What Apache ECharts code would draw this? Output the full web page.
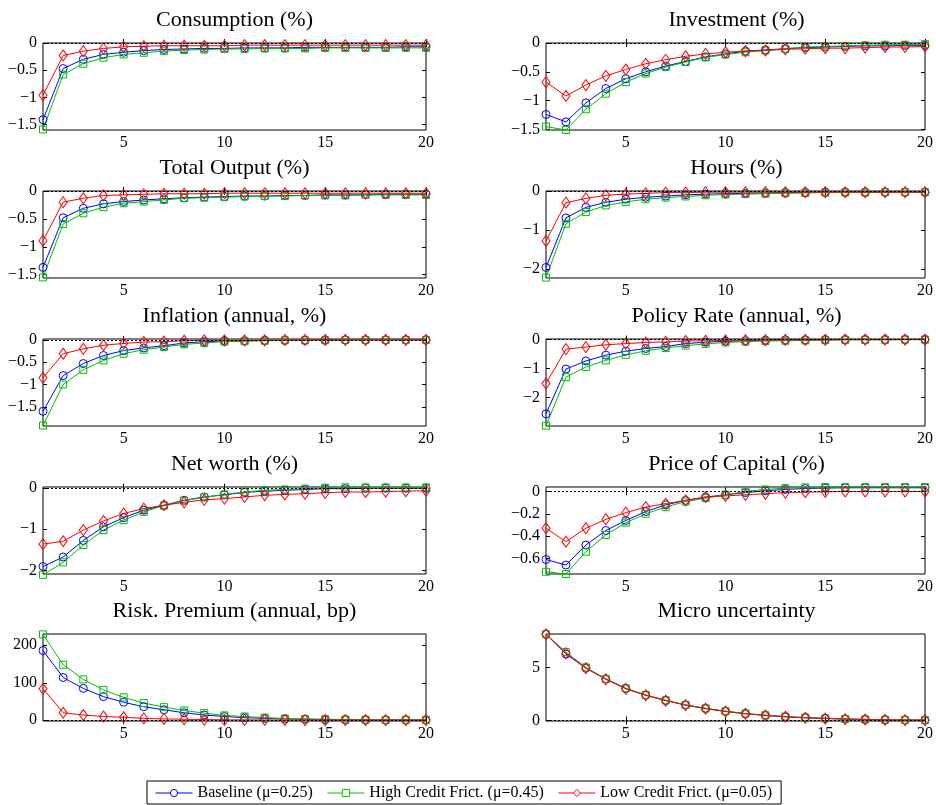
<!DOCTYPE html>
<html>
<head>
<meta charset="utf-8">
<script src="https://cdn.jsdelivr.net/npm/echarts@6/dist/echarts.min.js"></script>
<style>
html, body { margin: 0; padding: 0; background: #fff; }
#chart { width: 936px; height: 805px; }
</style>
</head>
<body>
<div id="chart"></div>
<script>
// quarters after the shock
var periods = [1,2,3,4,5,6,7,8,9,10,11,12,13,14,15,16,17,18,19,20];
var xTicks = [5, 10, 15, 20];

var seriesNames = ['Baseline (\u03bc=0.25)', 'High Credit Frict. (\u03bc=0.45)', 'Low Credit Frict. (\u03bc=0.05)'];

var titles = ['Consumption (%)', 'Investment (%)', 'Total Output (%)', 'Hours (%)',
  'Inflation (annual, %)', 'Policy Rate (annual, %)', 'Net worth (%)', 'Price of Capital (%)',
  'Risk. Premium (annual, bp)', 'Micro uncertainty'];

// consumption
var consBase = [-1.41,-0.47,-0.30,-0.21,-0.17,-0.14,-0.12,-0.11,-0.10,-0.10,-0.09,-0.09,-0.09,-0.08,-0.08,-0.08,-0.08,-0.08,-0.07,-0.07];
var consHigh = [-1.59,-0.58,-0.38,-0.27,-0.21,-0.18,-0.15,-0.13,-0.12,-0.11,-0.11,-0.10,-0.10,-0.10,-0.09,-0.09,-0.09,-0.09,-0.09,-0.09];
var consLow  = [-0.96,-0.23,-0.15,-0.10,-0.07,-0.06,-0.05,-0.05,-0.05,-0.05,-0.04,-0.04,-0.04,-0.04,-0.04,-0.04,-0.04,-0.04,-0.04,-0.04];
// investment
var invBase = [-1.24,-1.37,-1.04,-0.79,-0.62,-0.50,-0.40,-0.32,-0.24,-0.19,-0.14,-0.12,-0.10,-0.08,-0.07,-0.06,-0.05,-0.05,-0.04,-0.04];
var invHigh = [-1.45,-1.51,-1.15,-0.88,-0.68,-0.53,-0.42,-0.33,-0.25,-0.20,-0.16,-0.13,-0.10,-0.07,-0.06,-0.05,-0.04,-0.03,-0.03,-0.02];
var invLow  = [-0.68,-0.92,-0.73,-0.57,-0.46,-0.36,-0.29,-0.23,-0.19,-0.16,-0.14,-0.13,-0.11,-0.10,-0.09,-0.09,-0.08,-0.07,-0.07,-0.06];
// total output
var outBase = [-1.37,-0.48,-0.31,-0.23,-0.19,-0.16,-0.14,-0.12,-0.11,-0.10,-0.09,-0.09,-0.08,-0.08,-0.07,-0.07,-0.07,-0.06,-0.06,-0.06];
var outHigh = [-1.55,-0.59,-0.40,-0.29,-0.22,-0.19,-0.16,-0.13,-0.12,-0.11,-0.10,-0.09,-0.09,-0.08,-0.08,-0.08,-0.07,-0.07,-0.07,-0.07];
var outLow  = [-0.89,-0.20,-0.13,-0.08,-0.07,-0.06,-0.05,-0.05,-0.05,-0.04,-0.04,-0.04,-0.04,-0.04,-0.04,-0.04,-0.04,-0.04,-0.04,-0.04];
// hours
var hrsBase = [-1.96,-0.69,-0.42,-0.29,-0.21,-0.16,-0.13,-0.10,-0.08,-0.07,-0.06,-0.05,-0.04,-0.04,-0.03,-0.03,-0.03,-0.03,-0.03,-0.03];
var hrsHigh = [-2.22,-0.84,-0.54,-0.37,-0.28,-0.21,-0.17,-0.14,-0.11,-0.09,-0.08,-0.07,-0.06,-0.05,-0.04,-0.04,-0.04,-0.03,-0.03,-0.03];
var hrsLow  = [-1.28,-0.30,-0.19,-0.11,-0.08,-0.06,-0.04,-0.04,-0.03,-0.03,-0.03,-0.03,-0.03,-0.03,-0.03,-0.03,-0.03,-0.03,-0.03,-0.03];
// inflation
var infBase = [-1.60,-0.80,-0.53,-0.35,-0.24,-0.18,-0.13,-0.07,-0.04,-0.02,-0.02,-0.01,-0.01,-0.01,0,0,0,0,0,0];
var infHigh = [-1.92,-1.00,-0.67,-0.46,-0.31,-0.22,-0.16,-0.10,-0.07,-0.04,-0.03,-0.02,-0.01,-0.01,-0.01,0,0,0,0,0];
var infLow  = [-0.85,-0.31,-0.20,-0.12,-0.08,-0.05,-0.04,-0.02,-0.01,-0.01,-0.01,-0.01,0,0,0,0,0,0,0,0];
// policy rate
var polBase = [-2.57,-1.02,-0.74,-0.54,-0.40,-0.31,-0.24,-0.14,-0.09,-0.06,-0.04,-0.02,-0.01,-0.01,0,0,0,0,0,0];
var polHigh = [-2.98,-1.30,-0.95,-0.72,-0.53,-0.39,-0.29,-0.21,-0.15,-0.10,-0.07,-0.05,-0.04,-0.03,-0.02,-0.01,-0.01,-0.01,0,0];
var polLow  = [-1.52,-0.33,-0.26,-0.18,-0.14,-0.10,-0.08,-0.05,-0.04,-0.03,-0.02,-0.02,-0.01,-0.01,-0.01,0,0,0,0,0];
// net worth
var nwBase = [-1.90,-1.67,-1.27,-0.94,-0.72,-0.54,-0.42,-0.30,-0.22,-0.17,-0.11,-0.08,-0.06,-0.04,-0.02,-0.02,-0.01,-0.01,-0.01,-0.01];
var nwHigh = [-2.10,-1.80,-1.38,-1.02,-0.78,-0.58,-0.43,-0.31,-0.23,-0.16,-0.10,-0.06,-0.04,-0.02,0,0.01,0.01,0.01,0.01,0.01];
var nwLow  = [-1.36,-1.29,-1.02,-0.80,-0.62,-0.50,-0.42,-0.35,-0.29,-0.26,-0.22,-0.18,-0.16,-0.14,-0.12,-0.10,-0.10,-0.09,-0.08,-0.07];
// price of capital
var pkBase = [-0.61,-0.66,-0.48,-0.35,-0.26,-0.18,-0.12,-0.08,-0.05,-0.03,-0.01,0.006,0.018,0.027,0.030,0.033,0.033,0.033,0.033,0.033];
var pkHigh = [-0.72,-0.74,-0.54,-0.39,-0.28,-0.20,-0.14,-0.09,-0.06,-0.03,0,0.018,0.030,0.036,0.039,0.039,0.039,0.039,0.039,0.039];
var pkLow  = [-0.33,-0.45,-0.33,-0.25,-0.19,-0.14,-0.11,-0.08,-0.05,-0.04,-0.03,-0.02,-0.01,-0.006,-0.003,0,0,0,0,0];
// risk premium
var rpBase = [186,114,85,63,48,36,28,20,14,10,7,5,3.5,2.7,2,1.5,1,1,1,1];
var rpHigh = [229,148,109,81,61,46,35,26,19,13,10,7,4.5,3.5,2.7,2,1.5,1,1,1];
var rpLow  = [84,20,14,10,8,5,3.5,2.7,1.8,1.2,1,0.8,0.6,0.5,0.5,0.5,0.5,0.5,0.5,0.5];
// micro uncertainty
var muBase = [8.18,6.29,4.97,3.95,3.04,2.40,1.90,1.47,1.14,0.87,0.65,0.49,0.36,0.27,0.20,0.14,0.10,0.07,0.05,0.04];
var muHigh = [8.18,6.48,5.03,3.93,3.05,2.42,1.91,1.48,1.15,0.88,0.66,0.49,0.36,0.27,0.20,0.14,0.10,0.07,0.05,0.04];
var muLow  = [8.18,6.38,4.95,3.90,3.00,2.38,1.88,1.45,1.12,0.85,0.63,0.47,0.35,0.25,0.19,0.13,0.09,0.06,0.04,0.03];

var panelData = [
  [consBase, consHigh, consLow], [invBase, invHigh, invLow],
  [outBase, outHigh, outLow], [hrsBase, hrsHigh, hrsLow],
  [infBase, infHigh, infLow], [polBase, polHigh, polLow],
  [nwBase, nwHigh, nwLow], [pkBase, pkHigh, pkLow],
  [rpBase, rpHigh, rpLow], [muBase, muHigh, muLow]
];

// y tick labels and axis ranges
var yTicks = [
  [-1.5,-1,-0.5,0], [-1.5,-1,-0.5,0], [-1.5,-1,-0.5,0], [-2,-1,0],
  [-1.5,-1,-0.5,0], [-2,-1,0], [-2,-1,0], [-0.6,-0.4,-0.2,0],
  [0,100,200], [0,5]
];
var yMin = [-1.6, -1.51, -1.56, -2.23, -1.93, -2.99, -2.08, -0.74, -2, -0.05];
var yMax = [0, 0, 0, 0, 0.02, 0.02, 0.02, 0.04, 230, 8.2];

var colors = ['#0000ff', '#00c000', '#ff0000'];
var symbols = ['circle', 'rect', 'diamond'];
var symbolSizes = [8, 7, [8, 11]];

var font = 'Liberation Serif';
var colLeft = [43, 546], colWidth = [383, 381];
var rowTop = [43, 191, 339, 487, 634], rowH = 87;

var grids = [], xAxes = [], yAxes = [], titleList = [], series = [];

function fmt(v) {
  return String(v).replace('-', '\u2212');
}

for (var i = 0; i < 10; i++) {
  var c = i % 2, r = Math.floor(i / 2);
  grids.push({
    left: colLeft[c], top: rowTop[r], width: colWidth[c], height: rowH,
    show: true, borderColor: '#000', borderWidth: 1, backgroundColor: 'transparent'
  });
  titleList.push({
    text: titles[i], left: colLeft[c] + colWidth[c] / 2, top: rowTop[r] - 34,
    textAlign: 'center', padding: 0,
    textStyle: { fontFamily: font, fontSize: 22, fontWeight: 'normal', color: '#000' }
  });
}
// bottom / left axes first, then mirrored top / right ones
for (var k = 0; k < 2; k++) {
  for (var i = 0; i < 10; i++) {
    xAxes.push({
      type: 'value', gridIndex: i, min: 1, max: 20, position: k ? 'top' : 'bottom',
      axisLine: { show: false }, splitLine: { show: false },
      axisTick: { show: true, inside: true, length: 4, customValues: xTicks, lineStyle: { color: '#000' } },
      axisLabel: { show: !k, customValues: xTicks, margin: 5, fontFamily: font, fontSize: 16, color: '#000' }
    });
    yAxes.push({
      type: 'value', gridIndex: i, min: yMin[i], max: yMax[i], position: k ? 'right' : 'left',
      axisLine: { show: false }, splitLine: { show: false },
      axisTick: { show: true, inside: true, length: 4, customValues: yTicks[i], lineStyle: { color: '#000' } },
      axisLabel: { show: !k, customValues: yTicks[i], margin: 6, fontFamily: font, fontSize: 16, color: '#000', formatter: fmt }
    });
  }
}

for (var i = 0; i < 10; i++) {
  for (var s = 0; s < 3; s++) {
    var vals = panelData[i][s];
    var sObj = {
      name: seriesNames[s], type: 'line', xAxisIndex: i, yAxisIndex: i,
      data: periods.map(function (p, j) { return [p, vals[j]]; }),
      symbol: symbols[s], symbolSize: symbolSizes[s], showAllSymbol: true,
      lineStyle: { color: colors[s], width: 1 },
      itemStyle: { color: 'rgba(255,255,255,0)', borderColor: colors[s], borderWidth: 1 },
      emphasis: { disabled: true }, animation: false, clip: false
    };
    if (s === 0) {
      sObj.markLine = {
        silent: true, symbol: 'none', label: { show: false }, animation: false,
        lineStyle: { color: '#000', type: [2, 2], width: 1 },
        data: [{ yAxis: 0 }]
      };
    }
    series.push(sObj);
  }
}

var chart = echarts.init(document.getElementById('chart'), null, { renderer: 'canvas' });
chart.setOption({
  backgroundColor: '#fff',
  animation: false,
  title: titleList,
  grid: grids,
  xAxis: xAxes,
  yAxis: yAxes,
  legend: {
    data: seriesNames, left: 147, top: 781, orient: 'horizontal',
    padding: [4, 9, 3, 8], itemWidth: 37, itemHeight: 9, itemGap: 14,
    borderColor: '#000', borderWidth: 1, backgroundColor: '#fff',
    itemStyle: { color: '#fff', borderColor: 'inherit', borderWidth: 1 },
    lineStyle: { width: 1, color: 'inherit' },
    textStyle: { fontFamily: font, fontSize: 16, color: '#000' }
  },
  series: series
});
</script>
</body>
</html>
